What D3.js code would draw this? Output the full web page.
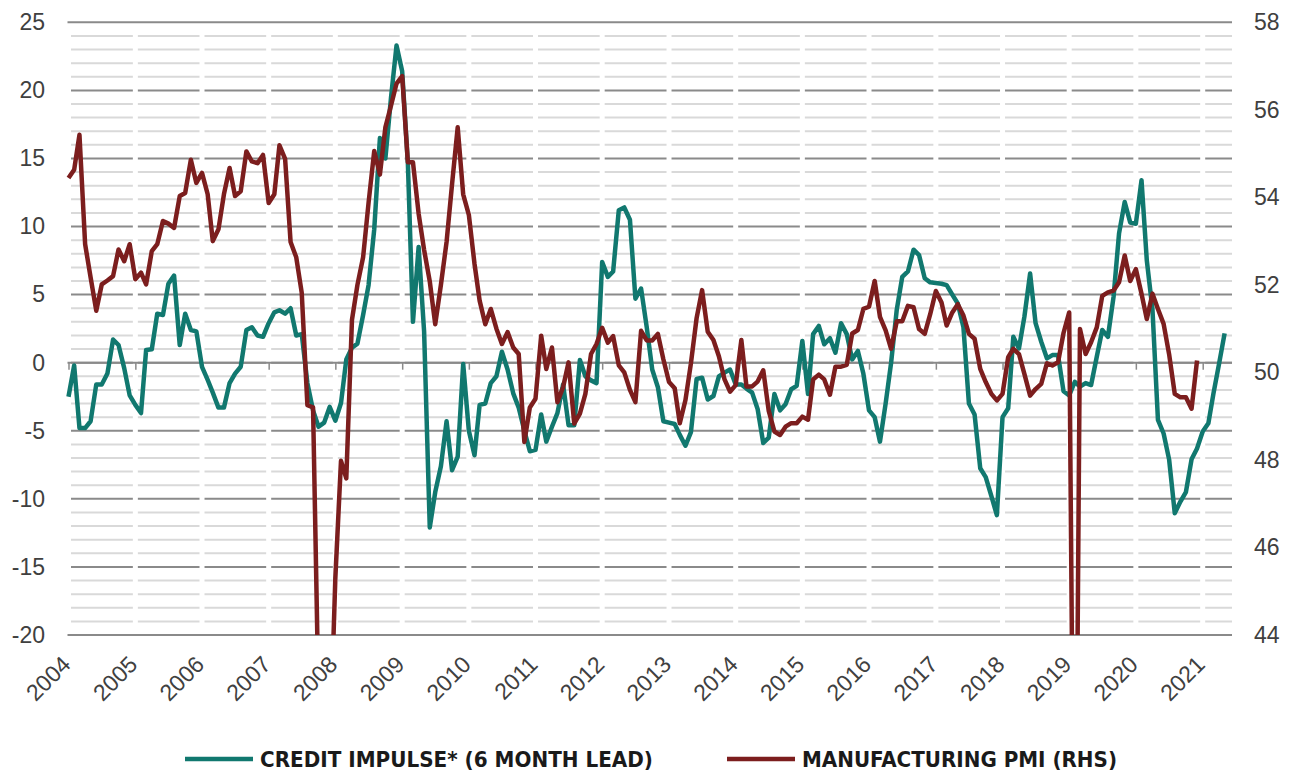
<!DOCTYPE html>
<html>
<head>
<meta charset="utf-8">
<script src="https://cdn.jsdelivr.net/npm/d3@7"></script>
<style>
	body { margin: 0; background: #fff; }
	svg { display: block; }
</style>
</head>
<body>
<div id="chart"></div>
<script>
// monthly series, first value = Jan 2004
const startYear = 2004
const yearLabels = ["2004", "2005", "2006", "2007", "2008", "2009", "2010", "2011", "2012",
	"2013", "2014", "2015", "2016", "2017", "2018", "2019", "2020", "2021"]
const leftTicks = [25, 20, 15, 10, 5, 0, -5, -10, -15, -20]
const rightTicks = [58, 56, 54, 52, 50, 48, 46, 44]

// credit impulse, 6 month lead (LHS), Jan 2004 - May 2021
const creditImpulse = [
	-2.5, -0.2, -4.8, -4.8, -4.3, -1.6, -1.6, -0.8, 1.7, 1.3, -0.4, -2.4,
	-3.1, -3.7, 0.93, 0.98, 3.6, 3.5, 5.8, 6.4, 1.3, 3.6, 2.4, 2.3,
	-0.3, -1.27, -2.2, -3.3, -3.3, -1.5, -0.8, -0.3, 2.4, 2.6, 2.0, 1.9,
	2.9, 3.7, 3.85, 3.6, 4.0, 2.0, 2.1, -1.5, -3.5, -4.7, -4.4, -3.25,
	-4.26, -2.96, 0.23, 1.1, 1.4, 3.5, 5.7, 9.8, 16.5, 15.0, 19.5, 23.3,
	21.4, 14.7, 3.0, 8.5, 2.3, -12.1, -9.5, -7.6, -4.3, -7.9, -6.9, -0.1,
	-5.0, -6.8, -3.1, -3.0, -1.5, -1.0, 0.8, -0.5, -2.25, -3.3, -5.0, -6.5,
	-6.4, -3.8, -5.8, -4.7, -3.7, -1.6, -4.6, -4.6, 0.2, -1.0, -1.3, -1.5,
	7.4, 6.3, 6.7, 11.2, 11.4, 10.5, 4.7, 5.45, 2.6, -0.5, -1.8, -4.3,
	-4.4, -4.5, -5.3, -6.1, -5.1, -1.2, -1.1, -2.7, -2.45, -1.0, -0.73, -0.5,
	-1.6, -1.6, -1.9, -2.2, -3.4, -5.9, -5.5, -2.3, -3.5, -3.05, -1.95, -1.7,
	1.6, -2.3, 2.1, 2.7, 1.35, 1.8, 0.73, 2.9, 2.1, 0.24, 0.86, -0.8,
	-3.5, -4.0, -5.8, -3.0, 0.0, 3.9, 6.3, 6.7, 8.3, 7.9, 6.2, 5.9,
	5.85, 5.8, 5.7, 5.0, 4.35, 2.6, -3.0, -3.8, -7.75, -8.4, -9.8, -11.2,
	-4.0, -3.35, 1.9, 1.05, 3.4, 6.55, 2.9, 1.54, 0.32, 0.56, 0.56, -2.1,
	-2.4, -1.4, -1.76, -1.5, -1.64, 0.44, 2.4, 1.9, 4.84, 9.5, 11.8, 10.3,
	10.2, 13.4, 7.5, 3.9, -4.2, -5.2, -7.1, -11.05, -10.2, -9.5, -7.1, -6.3,
	-5.06, -4.45, -2.25, -0.05, 2.15
]

// manufacturing PMI (RHS), Jan 2004 - Dec 2020
const pmi = [
	54.44, 54.63, 55.43, 52.93, 52.17, 51.41, 52.01, 52.1, 52.2, 52.81, 52.54, 52.93,
	52.13, 52.28, 52.01, 52.77, 52.93, 53.46, 53.4, 53.3, 54.03, 54.1, 54.86, 54.33,
	54.56, 54.07, 53.0, 53.27, 54.07, 54.67, 54.03, 54.14, 55.05, 54.82, 54.78, 54.97,
	53.87, 54.07, 55.19, 54.88, 52.98, 52.63, 51.82, 49.25, 49.2, 42.5, 38.8, 41.2,
	45.3, 47.98, 47.58, 51.2, 52.0, 52.63, 53.88, 55.06, 54.52, 55.6, 56.1, 56.6,
	56.77, 54.8, 54.8, 53.63, 52.8, 52.08, 51.1, 52.0, 52.98, 54.3, 55.6, 54.07,
	53.6, 52.48, 51.64, 51.1, 51.45, 51.0, 50.65, 50.92, 50.57, 50.42, 48.41, 49.2,
	49.4, 50.84, 50.08, 50.57, 49.32, 49.66, 50.23, 48.83, 49.06, 49.51, 50.42, 50.65,
	51.02, 50.68, 50.83, 50.16, 50.0, 49.6, 49.32, 50.95, 50.73, 50.73, 50.88, 50.3,
	49.78, 49.64, 48.84, 49.37, 50.21, 51.24, 51.88, 50.93, 50.74, 50.37, 49.84, 49.56,
	49.71, 50.74, 49.68, 49.68, 49.79, 50.05, 49.12, 48.65, 48.57, 48.76, 48.84, 48.84,
	48.99, 48.92, 49.84, 49.95, 49.84, 49.49, 50.13, 50.13, 50.17, 50.89, 50.97, 51.45,
	51.5, 52.09, 51.27, 50.96, 50.54, 51.17, 51.17, 51.52, 51.49, 50.99, 50.88, 51.33,
	51.86, 51.6, 51.07, 51.37, 51.56, 51.3, 50.88, 50.77, 50.08, 49.78, 49.51, 49.36,
	49.51, 50.35, 50.54, 50.42, 49.96, 49.47, 49.62, 49.74, 50.21, 50.16, 50.23, 50.9,
	51.37, 35.7, 50.99, 50.42, 50.69, 51.03, 51.75, 51.83, 51.87, 52.06, 52.67, 52.09,
	52.36, 51.8, 51.22, 51.8, 51.45, 51.11, 50.42, 49.51, 49.43, 49.43, 49.17, 50.27
]

const seriesNames = ["CREDIT IMPULSE* (6 MONTH LEAD)", "MANUFACTURING PMI (RHS)"]
const seriesColors = ["#11786f", "#7c1e1e"]

drawChart()

function drawChart() {
	var width = 1298, height = 771
	var left = 68.5, right = 1232, top = 22.3, bottom = 635
	var labelFont = "'Liberation Sans', Arial, sans-serif"

	var svg = d3.select("#chart")
		.append("svg")
		.attr("width", width)
		.attr("height", height)
		.style("font-family", labelFont)

	const monthDate = i => new Date(startYear, i, 1)

	const xScale = d3.scaleTime()
		.domain([new Date(2004, 0, 1), new Date(2021, 0, 1)])
		.range([left, 1202.7])

	const yLeft = d3.scaleLinear()
		.domain([-20, 25])
		.range([bottom, top])

	const yRight = d3.scaleLinear()
		.domain([44, 58])
		.range([bottom, top])

	// horizontal grid, one line per unit, darker every 5
	const grid = svg.append("g")
	grid.selectAll("line")
		.data(d3.range(-19, 25))
		.join("line")
		.attr("x1", left)
		.attr("x2", right)
		.attr("y1", d => yLeft(d))
		.attr("y2", d => yLeft(d))
		.style("stroke", d => d % 5 == 0 ? "#8a8a8a" : "#d9d9d9")
		.style("stroke-width", 2)

	// white breaks at every year
	const yearDates = yearLabels.map(y => new Date(+y, 0, 1))
	grid.selectAll("rect")
		.data(yearDates)
		.join("rect")
		.attr("x", d => xScale(d) - 2.5)
		.attr("y", top + 2)
		.attr("width", 5)
		.attr("height", bottom - top - 4)
		.style("fill", "white")

	// top, bottom and zero lines run through
	grid.selectAll(".full")
		.data([25, 0, -20])
		.join("line")
		.attr("class", "full")
		.attr("x1", left - 1)
		.attr("x2", right)
		.attr("y1", d => yLeft(d))
		.attr("y2", d => yLeft(d))
		.style("stroke", "#8a8a8a")
		.style("stroke-width", 2)

	// year ticks on the zero line
	svg.append("g")
		.attr("transform", `translate(0, ${yLeft(0)})`)
		.call(d3.axisBottom(xScale).tickValues(yearDates).tickSize(7).tickFormat(""))
		.call(g => g.select(".domain").remove())
		.call(g => g.selectAll("line").style("stroke", "#8a8a8a").style("stroke-width", 1.5))

	// rotated year labels
	svg.append("g")
		.attr("transform", `translate(0, ${bottom})`)
		.call(d3.axisBottom(xScale).tickValues(yearDates).tickSize(0).tickFormat(d3.timeFormat("%Y")))
		.call(g => g.select(".domain").remove())
		.call(g => g.selectAll("text")
			.attr("y", 0)
			.attr("dy", 0)
			.attr("transform", "translate(3,31) rotate(-45)")
			.style("text-anchor", "end")
			.style("font-size", "23px")
			.style("font-family", labelFont)
			.style("fill", "#404040"))

	svg.append("g")
		.attr("transform", "translate(45, 0)")
		.call(d3.axisLeft(yLeft).tickValues(leftTicks).tickSize(0).tickPadding(0)
			.tickFormat(d => String(d)))
		.call(g => g.select(".domain").remove())
		.call(g => g.selectAll("text")
			.style("font-size", "23px")
			.style("font-family", labelFont)
			.style("fill", "#404040"))

	svg.append("g")
		.attr("transform", "translate(1254, 0)")
		.call(d3.axisRight(yRight).tickValues(rightTicks).tickSize(0).tickPadding(0)
			.tickFormat(d => String(d)))
		.call(g => g.select(".domain").remove())
		.call(g => g.selectAll("text")
			.style("font-size", "23px")
			.style("font-family", labelFont)
			.style("fill", "#404040"))

	svg.append("clipPath")
		.attr("id", "plotclip")
		.append("rect")
		.attr("x", left - 5)
		.attr("y", top - 10)
		.attr("width", right - left + 10)
		.attr("height", bottom - top + 10)

	const lineLeft = d3.line()
		.x((d, i) => xScale(monthDate(i)))
		.y(d => yLeft(d))

	const lineRight = d3.line()
		.x((d, i) => xScale(monthDate(i)))
		.y(d => yRight(d))

	const plot = svg.append("g").attr("clip-path", "url(#plotclip)")

	plot.append("path")
		.datum(creditImpulse)
		.attr("d", lineLeft)
		.style("fill", "none")
		.style("stroke", seriesColors[0])
		.style("stroke-width", "4.5px")
		.style("stroke-linejoin", "round")

	plot.append("path")
		.datum(pmi)
		.attr("d", lineRight)
		.style("fill", "none")
		.style("stroke", seriesColors[1])
		.style("stroke-width", "4.5px")
		.style("stroke-linejoin", "round")

	// legend
	var legendX = [185, 727]
	var legendW = [393, 315]
	const legend = svg.append("g")
		.selectAll("g")
		.data(seriesNames)
		.join("g")
		.attr("transform", (d, i) => `translate(${legendX[i]}, 759)`)

	legend.append("line")
		.attr("x1", 0)
		.attr("x2", 68)
		.style("stroke", (d, i) => seriesColors[i])
		.style("stroke-width", 4.5)

	legend.append("text")
		.attr("x", 75)
		.attr("y", 8)
		.text(d => d)
		.attr("textLength", (d, i) => legendW[i])
		.attr("lengthAdjust", "spacingAndGlyphs")
		.style("font-family", "'Liberation Sans Narrow', 'Arial Narrow', 'DejaVu Sans Condensed', sans-serif")
		.style("font-weight", "bold")
		.style("font-size", "21px")
		.style("fill", "#1a1a1a")
}
</script>
</body>
</html>
